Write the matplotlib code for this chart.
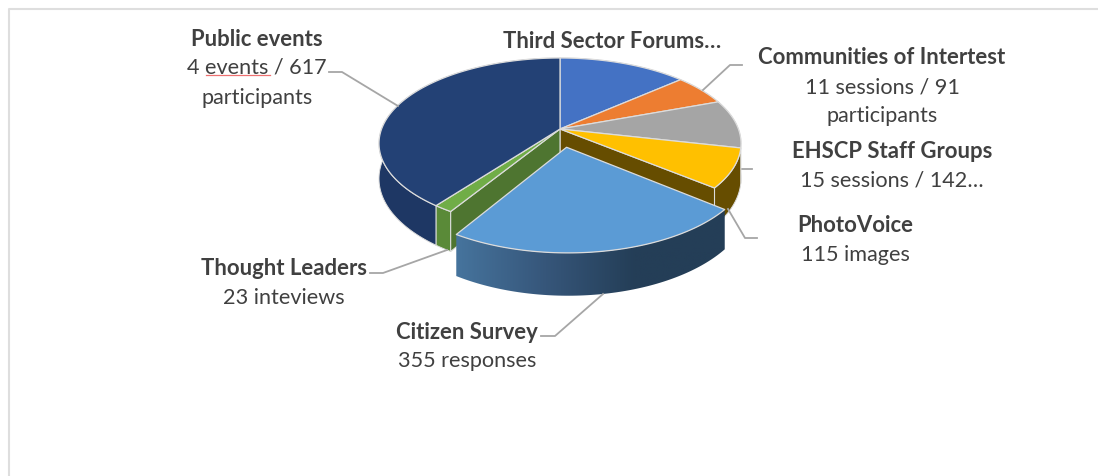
import numpy as np
import matplotlib
matplotlib.use("Agg")
import matplotlib.pyplot as plt
from matplotlib.colors import LinearSegmentedColormap
from matplotlib.patches import Polygon

plt.rcParams['font.family'] = ['Lato', 'DejaVu Sans']

# Engagement activities, clockwise from 12 o'clock
names = ['Third Sector Forums', 'Communities of Intertest', 'EHSCP Staff Groups',
         'PhotoVoice', 'Citizen Survey', 'Thought Leaders', 'Public events']
values = [210, 91, 142, 115, 355, 23, 617]
top_colors = ['#4472c4', '#ed7d31', '#a5a5a5', '#ffc000', '#5b9bd5', '#70ad47', '#234175']
wall_colors = ['#2f5597', '#a85a20', '#7a7a7a', '#664d00', '#36567a', '#5a8a38', '#1e3764']
explode = [0, 0, 0, 0, 0.215, 0, 0]

# Camera for the tilted pie
cx, cy = 560, 130
a, b, k = 178.4, 83.0, 0.169
depth = 34.2
edge = '#dcdcdc'


def project(u, v):
    w = 1 + k * v
    return cx + a * u / w, cy - b * v / w


def wall_height(v):
    return depth / (1 + k * v)


def slice_rim(t0, t1, off, r):
    ts = np.linspace(t0, t1, max(int(abs(t1 - t0) * 60), 8))
    u = off[0] + r * np.sin(ts)
    v = off[1] + r * np.cos(ts)
    return u, v


fig = plt.figure(figsize=(10.98, 4.77), dpi=100)
ax = fig.add_axes([0, 0, 1, 1])
ax.axis('off')

# chart area border, only top and left show
ax.plot([9, 9, 1098], [477, 9.5, 9.5], color='#dedede', lw=1.5, zorder=0)

angles = np.cumsum([0] + values) / sum(values) * 2 * np.pi
blue_ramp = LinearSegmentedColormap.from_list('wall', ['#46749d', '#36567a', '#243e57', '#243e57'])


def draw_radial_wall(t, off, r, color, z):
    ux, vx = off[0] + r * np.sin(t), off[1] + r * np.cos(t)
    x0, y0 = project(off[0], off[1])
    x1, y1 = project(ux, vx)
    pts = [(x0, y0), (x1, y1), (x1, y1 + wall_height(vx)), (x0, y0 + wall_height(off[1]))]
    ax.add_patch(Polygon(pts, closed=True, fc=color, ec=edge, lw=0.8, zorder=z))


def draw_rim_wall(i, off, r, z, ramp=None):
    u, v = slice_rim(angles[i], angles[i + 1], off, r)
    x, y = project(u, v)
    yb = y + wall_height(v)
    pts = np.r_[np.c_[x, y], np.c_[x, yb][::-1]]
    if ramp is None:
        ax.add_patch(Polygon(pts, closed=True, fc=wall_colors[i], ec=edge, lw=0.7, zorder=z))
    else:
        # horizontal shading clipped to the wall outline
        shape = Polygon(pts, closed=True, fc='none', ec='none', zorder=z)
        ax.add_patch(shape)
        shade = np.linspace(0, 1, 256)[None, :]
        im = ax.imshow(shade, cmap=ramp, aspect='auto', zorder=z,
                       extent=(x.min(), x.max(), yb.max(), y.min()))
        im.set_clip_path(shape)


def draw_top(i, off, r, z):
    u, v = slice_rim(angles[i], angles[i + 1], off, r)
    x, y = project(u, v)
    x0, y0 = project(off[0], off[1])
    pts = np.r_[[(x0, y0)], np.c_[x, y]]
    ax.add_patch(Polygon(pts, closed=True, fc=top_colors[i], ec=edge, lw=0.9,
                         joinstyle='round', zorder=z))


# back to front: resting slices first, the pulled-out slice last
for i in range(len(values)):
    if explode[i] == 0:
        draw_rim_wall(i, (0, 0), 1, 2)
draw_radial_wall(angles[4], (0, 0), 1, '#664d00', 3)
draw_radial_wall(angles[5], (0, 0), 1, '#4e7530', 3)
for i in range(len(values)):
    if explode[i] == 0:
        draw_top(i, (0, 0), 1, 4)

mid = (angles[4] + angles[5]) / 2
off = (explode[4] * np.sin(mid), explode[4] * np.cos(mid))
draw_rim_wall(4, off, 0.98, 5, ramp=blue_ramp)
draw_top(4, off, 0.98, 6)

# leader lines
leaders_x = [[329, 342, 398], [742, 730, 703], [752, 741], [757, 745, 728],
             [370, 383, 447], [541, 555, 603]]
leaders_y = [[73, 73, 107], [66, 66, 91], [170, 170], [239, 239, 210],
             [274, 274, 251], [337, 337, 295]]
for lx, ly in zip(leaders_x, leaders_y):
    ax.plot(lx, ly, color='#a6a6a6', lw=1.3, zorder=1 if lx[0] == 752 else 7)

ink = '#404040'
label_rows = [
    (257, [(39, 'Public events', True), (68, '4 events / 617', False), (98, 'participants', False)]),
    (612, [(42, 'Third Sector Forums…', True)]),
    (882, [(57, 'Communities of Intertest', True), (87, '11 sessions / 91', False), (116, 'participants', False)]),
    (892, [(152, 'EHSCP Staff Groups', True), (181, '15 sessions / 142…', False)]),
    (855, [(226, 'PhotoVoice', True), (255, '115 images', False)]),
    (284, [(269, 'Thought Leaders', True), (298, '23 inteviews', False)]),
    (467, [(333, 'Citizen Survey', True), (361, '355 responses', False)]),
]
for lx, rows in label_rows:
    for ly, txt, bold in rows:
        ax.text(lx, ly, txt, ha='center', va='center', color=ink,
                fontsize=15.9 if bold else 15.6,
                fontweight='bold' if bold else 'normal', zorder=8)

# spell-check underline beneath "events"
ax.plot([206, 270], [76, 76], color='#ee7070', lw=0.9, zorder=9)

ax.set_xlim(0, 1098)
ax.set_ylim(477, 0)
fig.savefig('out.png', dpi=100)
